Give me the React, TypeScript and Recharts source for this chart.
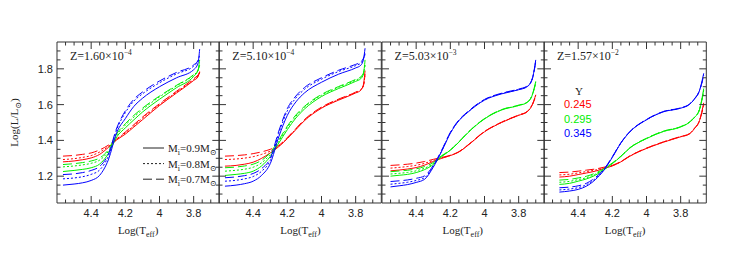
import React from "react";
import { LineChart, Line, XAxis, YAxis } from "recharts";

const FRAME = "#333333";
const SERIF = "'Liberation Serif', 'DejaVu Serif', serif";
const SANS = "'Liberation Sans', Arial, sans-serif";

const Y_COLORS = ["#ff0000", "#00ee00", "#0000ff"];
const Y_VALUES = ["0.245", "0.295", "0.345"];
const MASS_LABELS = ["0.9", "0.8", "0.7"];
const MASS_DASH = [undefined, "2 2", "9 4"];

const X_TICKS = [4.55, 4.5, 4.45, 4.4, 4.35, 4.3, 4.25, 4.2, 4.15, 4.1, 4.05, 4.0, 3.95, 3.9, 3.85, 3.8, 3.75, 3.7];
const X_MAJOR = [4.4, 4.2, 4.0, 3.8];
const Y_TICKS = [1.1, 1.15, 1.2, 1.25, 1.3, 1.35, 1.4, 1.45, 1.5, 1.55, 1.6, 1.65, 1.7, 1.75, 1.8, 1.85, 1.9];
const Y_MAJOR = [1.2, 1.4, 1.6, 1.8];

const Z_MANTISSA = ["1.60", "5.10", "5.03", "1.57"];
const Z_EXP = ["\u22124", "\u22124", "\u22123", "\u22122"];

// Z = 1.60e-4
const P1_X = [4.565, 4.5, 4.45, 4.4, 4.35, 4.3, 4.25, 4.2, 4.15, 4.1, 4.0, 3.9, 3.8, 3.775, 3.765];
const P1_R9 = [1.280, 1.285, 1.292, 1.302, 1.322, 1.360, 1.403, 1.435, 1.475, 1.515, 1.595, 1.665, 1.735, 1.755, 1.785];
const P1_R8 = [1.293, 1.298, 1.305, 1.315, 1.335, 1.366, 1.405, 1.442, 1.482, 1.524, 1.600, 1.670, 1.740, 1.760, 1.780];
const P1_R7 = [1.312, 1.316, 1.322, 1.330, 1.347, 1.373, 1.409, 1.447, 1.488, 1.530, 1.605, 1.675, 1.745, 1.765, 1.778];
const P1_G9 = [1.226, 1.232, 1.238, 1.247, 1.268, 1.325, 1.420, 1.470, 1.515, 1.558, 1.630, 1.695, 1.758, 1.790, 1.850];
const P1_G8 = [1.252, 1.257, 1.263, 1.272, 1.290, 1.338, 1.430, 1.485, 1.530, 1.572, 1.643, 1.705, 1.766, 1.790, 1.830];
const P1_G7 = [1.265, 1.270, 1.276, 1.285, 1.302, 1.347, 1.438, 1.493, 1.540, 1.580, 1.648, 1.708, 1.768, 1.792, 1.820];
const P1_B9 = [1.150, 1.156, 1.163, 1.176, 1.205, 1.290, 1.445, 1.522, 1.590, 1.635, 1.700, 1.750, 1.795, 1.830, 1.910];
const P1_B8 = [1.185, 1.190, 1.197, 1.210, 1.235, 1.310, 1.462, 1.555, 1.620, 1.660, 1.722, 1.772, 1.815, 1.842, 1.880];
const P1_B7 = [1.209, 1.213, 1.220, 1.232, 1.255, 1.322, 1.470, 1.565, 1.630, 1.670, 1.732, 1.780, 1.822, 1.846, 1.870];

// Z = 5.10e-4
const P2_X = [4.565, 4.5, 4.45, 4.4, 4.35, 4.3, 4.25, 4.2, 4.15, 4.1, 4.0, 3.9, 3.8, 3.77, 3.755, 3.745];
const P2_R9 = [1.256, 1.260, 1.267, 1.278, 1.300, 1.330, 1.365, 1.410, 1.460, 1.510, 1.580, 1.625, 1.665, 1.680, 1.710, 1.790];
const P2_R8 = [1.293, 1.296, 1.301, 1.309, 1.322, 1.340, 1.368, 1.413, 1.463, 1.513, 1.583, 1.628, 1.668, 1.683, 1.705, 1.770];
const P2_R7 = [1.312, 1.315, 1.319, 1.326, 1.336, 1.350, 1.372, 1.416, 1.466, 1.516, 1.586, 1.631, 1.670, 1.686, 1.705, 1.760];
const P2_G9 = [1.204, 1.210, 1.216, 1.228, 1.258, 1.310, 1.385, 1.460, 1.525, 1.575, 1.645, 1.690, 1.730, 1.745, 1.770, 1.850];
const P2_G8 = [1.228, 1.233, 1.239, 1.250, 1.275, 1.322, 1.395, 1.472, 1.535, 1.585, 1.652, 1.697, 1.737, 1.752, 1.772, 1.830];
const P2_G7 = [1.247, 1.251, 1.257, 1.267, 1.289, 1.332, 1.402, 1.480, 1.542, 1.590, 1.657, 1.701, 1.741, 1.756, 1.775, 1.820];
const P2_B9 = [1.144, 1.150, 1.158, 1.172, 1.205, 1.270, 1.420, 1.540, 1.615, 1.665, 1.725, 1.770, 1.805, 1.820, 1.850, 1.915];
const P2_B8 = [1.172, 1.177, 1.185, 1.198, 1.228, 1.288, 1.440, 1.565, 1.637, 1.685, 1.742, 1.785, 1.818, 1.832, 1.855, 1.890];
const P2_B7 = [1.191, 1.196, 1.203, 1.215, 1.243, 1.300, 1.452, 1.578, 1.648, 1.695, 1.750, 1.792, 1.825, 1.838, 1.858, 1.880];

// Z = 5.03e-3
const P3_X = [4.55, 4.5, 4.45, 4.4, 4.35, 4.3, 4.25, 4.2, 4.15, 4.1, 4.0, 3.9, 3.8, 3.75, 3.72, 3.7];
const P3_R9 = [1.230, 1.234, 1.240, 1.248, 1.262, 1.282, 1.300, 1.315, 1.335, 1.370, 1.448, 1.500, 1.540, 1.560, 1.600, 1.655];
const P3_R8 = [1.245, 1.249, 1.254, 1.261, 1.272, 1.288, 1.302, 1.316, 1.336, 1.371, 1.449, 1.501, 1.541, 1.561, 1.600, 1.650];
const P3_R7 = [1.260, 1.263, 1.267, 1.273, 1.282, 1.294, 1.305, 1.317, 1.337, 1.372, 1.450, 1.502, 1.542, 1.562, 1.600, 1.645];
const P3_G9 = [1.200, 1.205, 1.210, 1.220, 1.237, 1.265, 1.310, 1.345, 1.390, 1.440, 1.520, 1.570, 1.595, 1.612, 1.655, 1.730];
const P3_G8 = [1.212, 1.216, 1.221, 1.230, 1.245, 1.270, 1.312, 1.346, 1.391, 1.441, 1.521, 1.571, 1.596, 1.613, 1.655, 1.725];
const P3_G7 = [1.225, 1.229, 1.233, 1.241, 1.254, 1.276, 1.315, 1.347, 1.392, 1.442, 1.522, 1.572, 1.597, 1.614, 1.655, 1.720];
const P3_B9 = [1.140, 1.146, 1.153, 1.165, 1.183, 1.250, 1.340, 1.440, 1.510, 1.555, 1.625, 1.660, 1.683, 1.700, 1.745, 1.850];
const P3_B8 = [1.155, 1.160, 1.166, 1.176, 1.192, 1.255, 1.343, 1.442, 1.512, 1.557, 1.627, 1.662, 1.685, 1.702, 1.745, 1.845];
const P3_B7 = [1.170, 1.174, 1.179, 1.188, 1.202, 1.260, 1.347, 1.445, 1.514, 1.559, 1.629, 1.664, 1.687, 1.704, 1.745, 1.840];

// Z = 1.57e-2
const P4_X = [4.51, 4.45, 4.4, 4.35, 4.3, 4.25, 4.2, 4.15, 4.1, 4.0, 3.9, 3.8, 3.75, 3.72, 3.69, 3.665];
const P4_R9 = [1.195, 1.200, 1.209, 1.218, 1.228, 1.243, 1.257, 1.280, 1.310, 1.355, 1.390, 1.420, 1.435, 1.465, 1.510, 1.610];
const P4_R8 = [1.207, 1.211, 1.218, 1.226, 1.234, 1.246, 1.259, 1.281, 1.311, 1.356, 1.391, 1.421, 1.436, 1.466, 1.510, 1.600];
const P4_R7 = [1.220, 1.223, 1.228, 1.234, 1.240, 1.250, 1.261, 1.282, 1.312, 1.357, 1.392, 1.422, 1.437, 1.467, 1.510, 1.595];
const P4_G9 = [1.154, 1.160, 1.172, 1.185, 1.205, 1.235, 1.270, 1.310, 1.355, 1.410, 1.450, 1.475, 1.500, 1.527, 1.572, 1.690];
const P4_G8 = [1.166, 1.171, 1.181, 1.192, 1.211, 1.238, 1.272, 1.311, 1.356, 1.411, 1.451, 1.476, 1.501, 1.528, 1.572, 1.680];
const P4_G7 = [1.178, 1.182, 1.190, 1.200, 1.217, 1.241, 1.274, 1.312, 1.357, 1.412, 1.452, 1.477, 1.502, 1.529, 1.572, 1.675];
const P4_B9 = [1.111, 1.117, 1.126, 1.145, 1.180, 1.232, 1.305, 1.385, 1.445, 1.515, 1.560, 1.580, 1.600, 1.630, 1.678, 1.775];
const P4_B8 = [1.123, 1.128, 1.136, 1.153, 1.186, 1.235, 1.307, 1.386, 1.446, 1.516, 1.561, 1.581, 1.601, 1.631, 1.678, 1.765];
const P4_B7 = [1.135, 1.139, 1.146, 1.161, 1.192, 1.238, 1.309, 1.387, 1.447, 1.517, 1.562, 1.582, 1.602, 1.632, 1.678, 1.760];

const PANELS = [
  { x: P1_X, ys: [[P1_R9, P1_R8, P1_R7], [P1_G9, P1_G8, P1_G7], [P1_B9, P1_B8, P1_B7]] },
  { x: P2_X, ys: [[P2_R9, P2_R8, P2_R7], [P2_G9, P2_G8, P2_G7], [P2_B9, P2_B8, P2_B7]] },
  { x: P3_X, ys: [[P3_R9, P3_R8, P3_R7], [P3_G9, P3_G8, P3_G7], [P3_B9, P3_B8, P3_B7]] },
  { x: P4_X, ys: [[P4_R9, P4_R8, P4_R7], [P4_G9, P4_G8, P4_G7], [P4_B9, P4_B8, P4_B7]] },
];

// layout
const PLOT_TOP = 42;
const PLOT_H = 161;
const PLOT_W = 162.3;
const PLOT_LEFTS = [57, 219.3, 381.6, 543.9];
const AX_L = 40;
const AX_R = 10;
const AX_T = 10;
const AX_B = 40;

const isMajor = (v: number, list: number[]) => list.some((m) => Math.abs(m - v) < 1e-6);
const toPoints = (xs: number[], ys: number[]) => xs.map((x, i) => ({ x, y: ys[i] }));

function BottomTick(props: any) {
  const { x, y, payload } = props;
  const major = isMajor(payload.value, X_MAJOR);
  return (
    <g>
      <line x1={x} y1={y} x2={x} y2={y - (major ? 7 : 3.5)} stroke={FRAME} />
      {major && (
        <text x={x} y={y + 14} textAnchor="middle" fontFamily={SANS} fontSize={11} fill="#222">
          {String(payload.value)}
        </text>
      )}
    </g>
  );
}

function TopTick(props: any) {
  const { x, y, payload } = props;
  const major = isMajor(payload.value, X_MAJOR);
  return <line x1={x} y1={y} x2={x} y2={y + (major ? 7 : 3.5)} stroke={FRAME} />;
}

function LeftTick(props: any) {
  const { x, y, payload, showLabels } = props;
  const major = isMajor(payload.value, Y_MAJOR);
  return (
    <g>
      <line x1={x} y1={y} x2={x + (major ? 7 : 3.5)} y2={y} stroke={FRAME} />
      {major && showLabels && (
        <text x={x - 4} y={y + 4} textAnchor="end" fontFamily={SANS} fontSize={11} fill="#222">
          {payload.value.toFixed(1)}
        </text>
      )}
    </g>
  );
}

function RightTick(props: any) {
  const { x, y, payload } = props;
  const major = isMajor(payload.value, Y_MAJOR);
  return <line x1={x} y1={y} x2={x - (major ? 7 : 3.5)} y2={y} stroke={FRAME} />;
}

function Panel({ index }: { index: number }) {
  const panel = PANELS[index];
  const left = PLOT_LEFTS[index];
  return (
    <div style={{ position: "absolute", left: left - AX_L, top: PLOT_TOP - AX_T }}>
      <LineChart
        width={AX_L + PLOT_W + AX_R}
        height={AX_T + PLOT_H + AX_B}
        margin={{ top: 0, right: 0, bottom: 0, left: 0 }}
      >
        <XAxis
          xAxisId="b"
          type="number"
          dataKey="x"
          domain={[3.65, 4.6]}
          reversed
          allowDataOverflow
          ticks={X_TICKS}
          interval={0}
          tickLine={false}
          tickSize={0}
          tickMargin={0}
          height={AX_B}
          axisLine={{ stroke: FRAME }}
          tick={<BottomTick />}
        />
        <XAxis
          xAxisId="t"
          orientation="top"
          type="number"
          dataKey="x"
          domain={[3.65, 4.6]}
          reversed
          allowDataOverflow
          ticks={X_TICKS}
          interval={0}
          tickLine={false}
          tickSize={0}
          tickMargin={0}
          height={AX_T}
          axisLine={{ stroke: FRAME }}
          tick={<TopTick />}
        />
        <YAxis
          yAxisId="l"
          type="number"
          domain={[1.05, 1.95]}
          allowDataOverflow
          ticks={Y_TICKS}
          interval={0}
          tickLine={false}
          tickSize={0}
          tickMargin={0}
          width={AX_L}
          axisLine={{ stroke: FRAME }}
          tick={<LeftTick showLabels={index === 0} />}
        />
        <YAxis
          yAxisId="r"
          orientation="right"
          type="number"
          domain={[1.05, 1.95]}
          allowDataOverflow
          ticks={Y_TICKS}
          interval={0}
          tickLine={false}
          tickSize={0}
          tickMargin={0}
          width={AX_R}
          axisLine={{ stroke: FRAME }}
          tick={<RightTick />}
        />
        {panel.ys.map((group, c) =>
          group.map((ys, m) => (
            <Line
              key={`${c}-${m}`}
              xAxisId="b"
              yAxisId="l"
              data={toPoints(panel.x, ys)}
              dataKey="y"
              type="monotone"
              stroke={Y_COLORS[c]}
              strokeWidth={1}
              strokeDasharray={MASS_DASH[m]}
              dot={false}
              activeDot={false}
              isAnimationActive={false}
            />
          ))
        )}
      </LineChart>
    </div>
  );
}

function Annotations() {
  return (
    <svg
      width={746}
      height={259}
      style={{ position: "absolute", left: 0, top: 0, pointerEvents: "none" }}
    >
      <text
        transform={`translate(18,${PLOT_TOP + PLOT_H / 2}) rotate(-90)`}
        textAnchor="middle"
        fontFamily={SERIF}
        fontSize={11}
        fill="#222"
      >
        Log(L/L
        <tspan fontSize={8} dy={3}>⊙</tspan>
        <tspan dy={-3}>)</tspan>
      </text>
      {PLOT_LEFTS.map((left, i) => (
        <g key={i}>
          <text x={left + PLOT_W / 2} y={234} textAnchor="middle" fontFamily={SERIF} fontSize={11} fill="#222">
            Log(T
            <tspan fontSize={8} dy={3}>eff</tspan>
            <tspan dy={-3}>)</tspan>
          </text>
          <text x={left + 13} y={60} fontFamily={SERIF} fontSize={12} fill="#222">
            {`Z=${Z_MANTISSA[i]}×10`}
            <tspan fontSize={7.5} dy={-5}>{Z_EXP[i]}</tspan>
          </text>
        </g>
      ))}
      {MASS_LABELS.map((m, i) => {
        const y = 148 + i * 15.6;
        return (
          <g key={m}>
            <line x1={143} y1={y} x2={164} y2={y} stroke="#222" strokeWidth={1} strokeDasharray={MASS_DASH[i]} />
            <text x={168} y={y + 4} fontFamily={SERIF} fontSize={11} fill="#222">
              M
              <tspan fontSize={8} dy={3}>i</tspan>
              <tspan dy={-3}>{`=${m}M`}</tspan>
              <tspan fontSize={8} dy={3}>⊙</tspan>
            </text>
          </g>
        );
      })}
      <text x={579} y={95} textAnchor="middle" fontFamily={SERIF} fontSize={11} fill="#222">
        Y
      </text>
      {Y_VALUES.map((v, i) => (
        <text key={v} x={564} y={108 + i * 14.5} fontFamily={SANS} fontSize={11} fill={Y_COLORS[i]}>
          {v}
        </text>
      ))}
    </svg>
  );
}

export default function App() {
  return (
    <div style={{ position: "absolute", left: 0, top: 0, width: 746, height: 259, background: "#fff" }}>
      {PANELS.map((_, i) => (
        <Panel key={i} index={i} />
      ))}
      <Annotations />
    </div>
  );
}
